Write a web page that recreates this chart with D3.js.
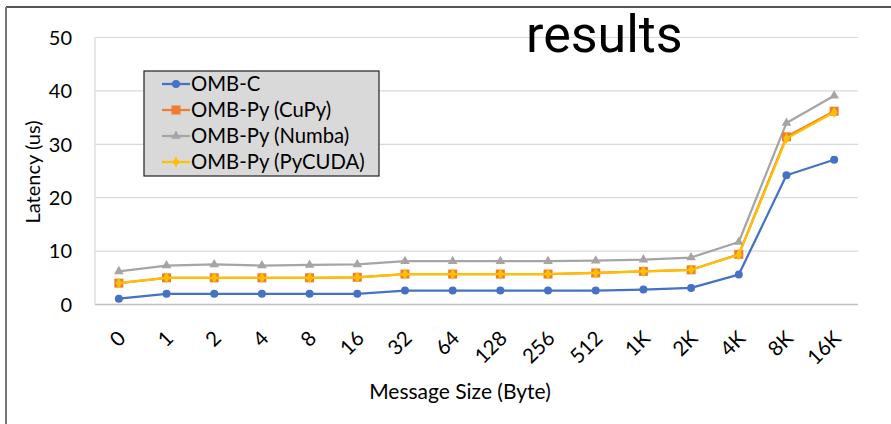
<!DOCTYPE html>
<html><head><meta charset="utf-8">
<script src="https://cdn.jsdelivr.net/npm/d3@7"></script>
<style>body{margin:0;background:#fff;} svg{display:block;}</style>
</head><body>
<script>
const categories = ["0","1","2","4","8","16","32","64","128","256","512","1K","2K","4K","8K","16K"];
const seriesNames = ["OMB-C","OMB-Py (CuPy)","OMB-Py (Numba)","OMB-Py (PyCUDA)"];
const ombC    = [1.1,2.0,2.0,2.0,2.0,2.0,2.6,2.6,2.6,2.6,2.6,2.8,3.1,5.6,24.2,27.1];
const cupy    = [4.0,5.0,5.0,5.0,5.0,5.1,5.7,5.7,5.7,5.7,5.9,6.2,6.5,9.4,31.4,36.2];
const numba   = [6.2,7.3,7.5,7.3,7.4,7.5,8.1,8.1,8.1,8.1,8.2,8.4,8.8,11.7,34.0,39.1];
const pycuda  = [4.0,5.0,5.0,5.0,5.0,5.1,5.7,5.7,5.7,5.7,5.9,6.2,6.5,9.3,31.1,36.0];
const yTicks  = [0,10,20,30,40,50];
const colors  = ["#4472C4","#ED7D31","#A5A5A5","#FFC000"];
const markers = ["circle","square","triangle","diamond"];
const seriesValues = [ombC, cupy, numba, pycuda];

const W = 891, H = 424;
const svg = d3.select("body").append("svg").attr("width", W).attr("height", H);
const font = "Lato, 'Open Sans', sans-serif";

// outer frame (top and left only)
svg.append("line").attr("x1",6).attr("x2",W).attr("y1",7).attr("y2",7).attr("stroke","#555").attr("stroke-width",2);
svg.append("line").attr("x1",6).attr("x2",6).attr("y1",7).attr("y2",H).attr("stroke","#777").attr("stroke-width",2);

const plot = {l:95, r:858, t:37.5, b:304.5};
const x = d3.scaleBand().domain(categories).range([plot.l, plot.r]);
const y = d3.scaleLinear().domain([0,50]).range([plot.b, plot.t]);
const cx = c => x(c) + x.bandwidth()/2;

// gridlines
svg.append("g").selectAll("line").data(yTicks.filter(t=>t>0)).join("line")
  .attr("x1",plot.l).attr("x2",plot.r).attr("y1",d=>y(d)).attr("y2",d=>y(d))
  .attr("stroke","#d9d9d9").attr("stroke-width",1.2);
// axis lines
svg.append("line").attr("x1",plot.l).attr("x2",plot.r).attr("y1",plot.b).attr("y2",plot.b).attr("stroke","#bfbfbf").attr("stroke-width",1.5);
svg.append("line").attr("x1",plot.l).attr("x2",plot.l).attr("y1",plot.t).attr("y2",plot.b).attr("stroke","#d9d9d9").attr("stroke-width",1.2);

// y tick labels
svg.append("g").selectAll("text").data(yTicks).join("text")
  .attr("x",72).attr("y",d=>y(d)).attr("dy","0.36em").attr("text-anchor","end")
  .attr("font-family",font).attr("font-size",20).attr("fill","#000").text(d=>d);

// x tick labels
svg.append("g").selectAll("text").data(categories).join("text")
  .attr("transform",d=>`translate(${cx(d)+3},${plot.b+30}) rotate(-45)`)
  .attr("text-anchor","end").attr("dy","0.35em")
  .attr("font-family",font).attr("font-size",20.5).attr("fill","#000").text(d=>d);

// axis titles
svg.append("text").attr("transform",`translate(33,172) rotate(-90)`).attr("text-anchor","middle").attr("dy","0.35em")
  .attr("font-family",font).attr("font-size",20).attr("fill","#000").text("Latency (us)");
svg.append("text").attr("x",460).attr("y",392).attr("text-anchor","middle").attr("dy","0.35em")
  .attr("font-family",font).attr("font-size",21).attr("fill","#000").text("Message Size (Byte)");

function drawMarker(g, type, color){
  if(type==="circle") g.append("circle").attr("r",4).attr("fill",color);
  else if(type==="square") g.append("rect").attr("x",-4.5).attr("y",-4.5).attr("width",9).attr("height",9).attr("fill",color);
  else if(type==="triangle") g.append("path").attr("d",d3.symbol(d3.symbolTriangle,40)()).attr("fill",color);
  else g.append("path").attr("d",d3.symbol(d3.symbolDiamond,36)()).attr("fill",color);
}

const line = d3.line().x((d,i)=>cx(categories[i])).y(d=>y(d));
const order = [0,2,1,3];
order.forEach(si=>{
  const vals = seriesValues[si];
  svg.append("path").datum(vals).attr("d",line).attr("fill","none")
    .attr("stroke",colors[si]).attr("stroke-width",2.25).attr("stroke-linejoin","round");
  vals.forEach((v,i)=>{
    const g = svg.append("g").attr("transform",`translate(${cx(categories[i])},${y(v)})`);
    drawMarker(g, markers[si], colors[si]);
  });
});

// legend
const lg = svg.append("g");
lg.append("rect").attr("x",144).attr("y",71).attr("width",235).attr("height",105)
  .attr("fill","#d9d9d9").attr("stroke","#222").attr("stroke-width",1.2);
seriesNames.forEach((n,i)=>{
  const yy = 84 + i*26;
  lg.append("line").attr("x1",162).attr("x2",190).attr("y1",yy).attr("y2",yy).attr("stroke",colors[i]).attr("stroke-width",2.25);
  const g = lg.append("g").attr("transform",`translate(176,${yy})`);
  drawMarker(g, markers[i], colors[i]);
  lg.append("text").attr("x",191).attr("y",yy).attr("dy","0.35em")
    .attr("font-family",font).attr("font-size",20.3).attr("fill","#000").text(n);
});

// title fragment
svg.append("text").attr("x",526).attr("y",52).attr("font-family","Roboto, 'Liberation Sans', sans-serif")
  .attr("font-size",52).attr("fill","#000").text("results");
</script>
</body></html>
